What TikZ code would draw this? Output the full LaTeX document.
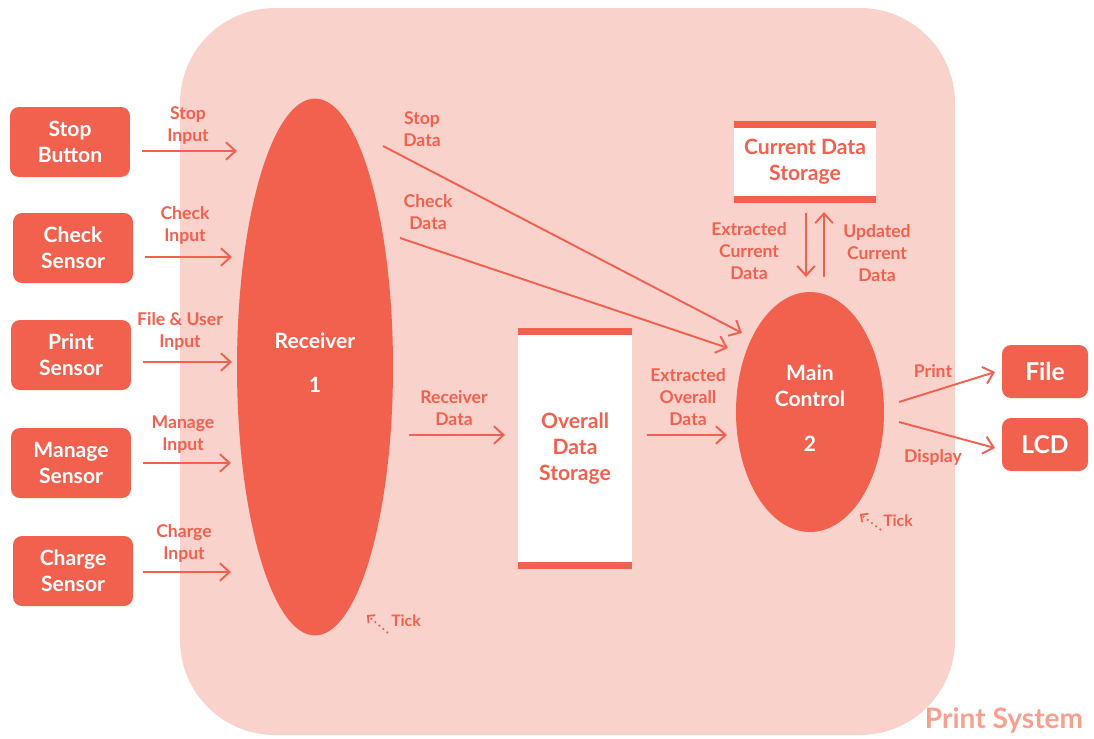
\documentclass[tikz,border=0pt]{standalone}
\usepackage{fontspec}
\setmainfont{Lato}
\usetikzlibrary{shapes.geometric,arrows.meta}

\definecolor{salmon}{HTML}{F2604E}
\definecolor{bgpink}{HTML}{FAD2CC}
\definecolor{syspink}{HTML}{F8A090}

\tikzset{
	extbox/.style={fill=salmon, text=white, rounded corners=0.18cm, minimum width=2.4cm, minimum height=1.4cm, align=center, font=\fontsize{12}{15}\selectfont\bfseries},
	proc/.style={ellipse, fill=salmon, inner sep=0pt},
	proctext/.style={text=white, align=center, font=\fontsize{12}{15}\selectfont\bfseries},
	store/.style={fill=white, inner sep=0pt},
	storetext/.style={text=salmon, align=center, font=\fontsize{12}{15}\selectfont\bfseries},
	flowlabel/.style={text=salmon, align=center, font=\fontsize{10}{12.5}\selectfont\bfseries},
	flow/.style={salmon, line width=1.1pt, -{Straight Barb[length=5.5pt,width=10pt,line width=1.1pt]}},
	tick/.style={salmon, line width=1pt, dotted, -{Straight Barb[length=3pt,width=6pt,line width=1pt]}}
}

\begin{document}
\begin{tikzpicture}[x=0.02cm, y=-0.02cm]

\useasboundingbox (0,0) rectangle (1094,738);

% Systemgrenze
\fill[bgpink, rounded corners=1.9cm] (180,8) rectangle (955,735);
\node[text=syspink, font=\fontsize{16}{19}\selectfont\bfseries] (sys) at (1004,720) {Print System};

% Definition der Koordinaten der Prozesse
\def \recX {315}
\def \recY {367}
\def \mainX {810}
\def \mainY {412}

% Prozesse
\node[proc, minimum width=3.12cm, minimum height=10.74cm] (Rec) at (\recX,\recY) {};
\node[proctext] (RecName) at (\recX,341) {Receiver};
\node[proctext] (RecNum) at (\recX,385) {1};
\node[proc, minimum width=2.96cm, minimum height=4.8cm] (Main) at (\mainX,\mainY) {};
\node[proctext] (MainName) at (\mainX,386) {Main\\Control};
\node[proctext] (MainNum) at (\mainX,444) {2};

% Externe Einheiten links
\node[extbox] (Stop) at (70,142) {Stop\\Button};
\node[extbox] (Check) at (73,248) {Check\\Sensor};
\node[extbox] (Print) at (71,355) {Print\\Sensor};
\node[extbox] (Manage) at (71,463) {Manage\\Sensor};
\node[extbox] (Charge) at (73,571) {Charge\\Sensor};

% Externe Einheiten rechts
\node[extbox, minimum width=1.72cm, minimum height=1.06cm, font=\fontsize{14}{16}\selectfont\bfseries] (File) at (1045,371.5) {File};
\node[extbox, minimum width=1.72cm, minimum height=1.06cm, font=\fontsize{14}{16}\selectfont\bfseries] (LCD) at (1045,444.5) {LCD};

% Datenspeicher
\node[store, minimum width=2.28cm, minimum height=4.66cm] (Overall) at (575,448.5) {};
\draw[salmon, line width=4pt] (Overall.north west) -- (Overall.north east);
\draw[salmon, line width=4pt] (Overall.south west) -- (Overall.south east);
\node[storetext] (OverallName) at (Overall) {Overall\\Data\\Storage};
\node[store, minimum width=2.84cm, minimum height=1.48cm] (Current) at (805,162) {};
\draw[salmon, line width=4pt] (Current.north west) -- (Current.north east);
\draw[salmon, line width=4pt] (Current.south west) -- (Current.south east);
\node[storetext] (CurrentName) at (Current) {Current Data\\Storage};

% Anfangs- und Endpunkte der Pfeile
\coordinate (stopA) at (142,151);
\coordinate (stopB) at (237,151);
\coordinate (checkA) at (145,257);
\coordinate (checkB) at (232,257);
\coordinate (printA) at (143,362);
\coordinate (printB) at (232,362);
\coordinate (manageA) at (143,463);
\coordinate (manageB) at (231,463);
\coordinate (chargeA) at (143,572);
\coordinate (chargeB) at (231,572);
\coordinate (stopDataA) at (383,146);
\coordinate (stopDataB) at (742,333);
\coordinate (checkDataA) at (400,238);
\coordinate (checkDataB) at (728,348);
\coordinate (recDataA) at (409,435);
\coordinate (recDataB) at (505,435);
\coordinate (ovDataA) at (647,435);
\coordinate (ovDataB) at (727,435);
\coordinate (curDownA) at (806,213);
\coordinate (curDownB) at (806,277);
\coordinate (curUpA) at (824,277);
\coordinate (curUpB) at (824,212);
\coordinate (outPrintA) at (899,402);
\coordinate (outPrintB) at (995,372);
\coordinate (outDispA) at (899,422);
\coordinate (outDispB) at (995,448);
\coordinate (tickRecA) at (388,633);
\coordinate (tickRecB) at (367,615);
\coordinate (tickMainA) at (881,530);
\coordinate (tickMainB) at (860,514);

% Datenfluesse
\path[flow] (stopA) edge (stopB);
\path[flow] (checkA) edge (checkB);
\path[flow] (printA) edge (printB);
\path[flow] (manageA) edge (manageB);
\path[flow] (chargeA) edge (chargeB);
\path[flow] (stopDataA) edge (stopDataB);
\path[flow] (checkDataA) edge (checkDataB);
\path[flow] (recDataA) edge (recDataB);
\path[flow] (ovDataA) edge (ovDataB);
\path[flow] (curDownA) edge (curDownB);
\path[flow] (curUpA) edge (curUpB);
\path[flow] (outPrintA) edge (outPrintB);
\path[flow] (outDispA) edge (outDispB);

% Beschriftungen
\node[flowlabel] (lStop) at (188,126) {Stop\\Input};
\node[flowlabel] (lCheck) at (185,225) {Check\\Input};
\node[flowlabel] (lPrint) at (180,331) {File \& User\\Input};
\node[flowlabel] (lManage) at (183,435) {Manage\\Input};
\node[flowlabel] (lCharge) at (184,543) {Charge\\Input};
\node[flowlabel] (lStopData) at (422,129) {Stop\\Data};
\node[flowlabel] (lCheckData) at (428,212) {Check\\Data};
\node[flowlabel] (lRecData) at (454,408) {Receiver\\Data};
\node[flowlabel] (lOvData) at (688,397) {Extracted\\Overall\\Data};
\node[flowlabel] (lCurDown) at (749,251) {Extracted\\Current\\Data};
\node[flowlabel] (lCurUp) at (877,253) {Updated\\Current\\Data};
\node[flowlabel] (lPrintOut) at (933,371) {Print};
\node[flowlabel] (lDisp) at (933,457) {Display};

% Takt
\path[tick] (tickRecA) edge (tickRecB);
\node[flowlabel, font=\fontsize{9}{11}\selectfont\bfseries] (tickRec) at (406,621) {Tick};
\path[tick] (tickMainA) edge (tickMainB);
\node[flowlabel, font=\fontsize{9}{11}\selectfont\bfseries] (tickMain) at (898,521) {Tick};

\end{tikzpicture}
\end{document}
